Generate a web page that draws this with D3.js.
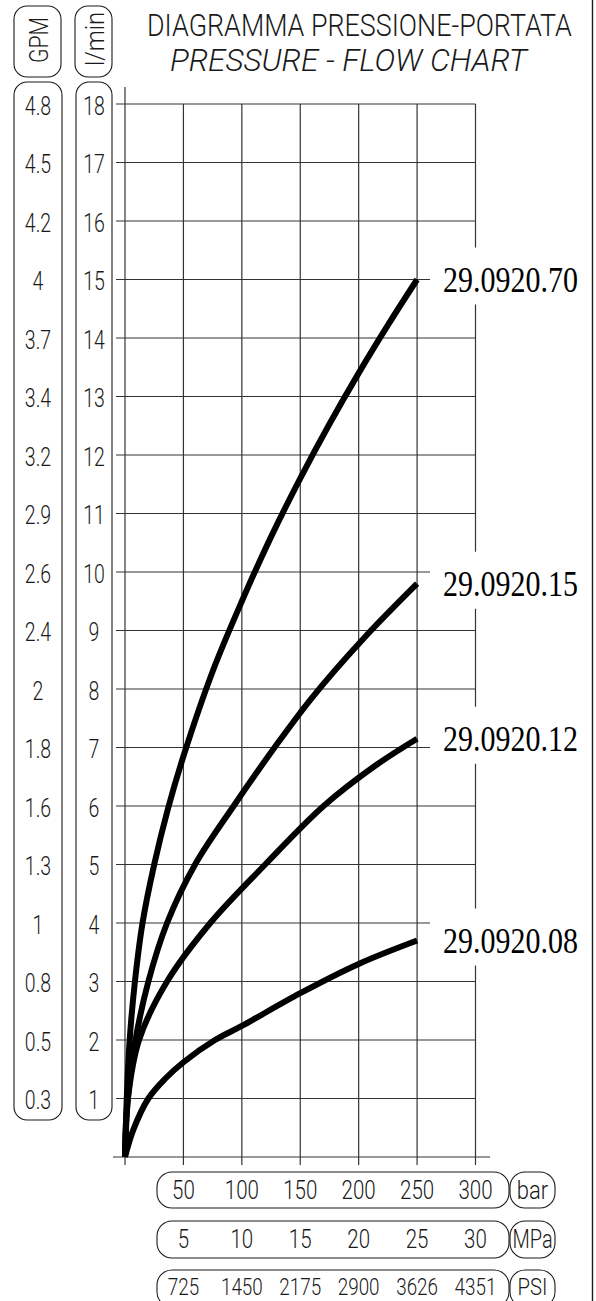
<!DOCTYPE html>
<html><head><meta charset="utf-8">
<script src="https://cdn.jsdelivr.net/npm/d3@7"></script>
<style>body{margin:0;background:#fff}svg{display:block}</style>
</head><body>
<script>
// ---- data ----
const barTicks = [50, 100, 150, 200, 250, 300];
const mpaLabels = ["5", "10", "15", "20", "25", "30"];
const psiLabels = ["725", "1450", "2175", "2900", "3626", "4351"];
const flowTicks = [1,2,3,4,5,6,7,8,9,10,11,12,13,14,15,16,17,18];
const gpmLabels = ["0.3","0.5","0.8","1","1.3","1.6","1.8","2","2.4","2.6","2.9","3.2","3.4","3.7","4","4.2","4.5","4.8"];
const seriesNames = ["29.0920.70", "29.0920.15", "29.0920.12", "29.0920.08"];
// [bar, l/min]
const s70 = [[0,0],[1.5,1],[4,2],[8.5,3],[15,4],[25,5],[37,5.97],[50,6.85],[75,8.3],[100,9.5],[125,10.6],[150,11.6],[175,12.53],[200,13.4],[225,14.22],[250,15]];
const s15 = [[0,0],[2.5,1],[9,2],[20,3],[36,4],[60,5],[93,6],[128,7],[160,7.85],[205,8.88],[250,9.8]];
const s12 = [[0,0],[2.5,1],[12,2],[36,3],[73,4],[120,5],[170,6],[215,6.7],[250,7.15]];
const s08 = [[0,0],[7,0.46],[20,1],[35,1.35],[50,1.62],[77,2],[100,2.24],[150,2.8],[200,3.3],[250,3.7]];
const allSeries = [s70, s15, s12, s08];

const W = 596, H = 1301;
const svg = d3.select("body").append("svg").attr("width", W).attr("height", H);
const x = d3.scaleLinear().domain([0, 300]).range([125, 475.5]);
const y = d3.scaleLinear().domain([0, 18]).range([1157, 104]);

const FONT = "Roboto, 'DejaVu Sans', sans-serif";
const INK = "#1a1a1a";

function ctext(sel, px, py, str, size, sx, opts = {}) {
  const g = sel.append("g").attr("transform", `translate(${px},${py})` + (opts.rot ? ` rotate(${opts.rot})` : "") + ` scale(${sx},1)`);
  g.append("text").text(str)
    .attr("text-anchor", opts.anchor || "middle")
    .attr("dominant-baseline", opts.baseline || "central")
    .attr("font-family", opts.family || FONT)
    .attr("font-weight", opts.weight || 300)
    .attr("font-style", opts.italic ? "italic" : "normal")
    .attr("font-size", size)
    .attr("fill", opts.fill || INK);
  return g;
}
// text fitted to a target width (scaled horizontally)
function fitText(sel, px, py, str, size, width, opts = {}) {
  const g = sel.append("g");
  const t = g.append("text").text(str)
    .attr("x", 0).attr("y", 0)
    .attr("text-anchor", "start")
    .attr("font-family", opts.family || FONT)
    .attr("font-weight", opts.weight || 300)
    .attr("font-style", opts.italic ? "italic" : "normal")
    .attr("font-size", size)
    .attr("fill", opts.fill || INK);
  const len = t.node().getComputedTextLength();
  g.attr("transform", `translate(${px},${py}) scale(${width / len},1)`);
  return g;
}
function box(x0, y0, x1, y1, r) {
  svg.append("rect").attr("x", x0).attr("y", y0).attr("width", x1 - x0).attr("height", y1 - y0)
    .attr("rx", r).attr("ry", r).attr("fill", "none").attr("stroke", INK).attr("stroke-width", 1.1);
}

// ---- title ----
fitText(svg, 147, 36, "DIAGRAMMA PRESSIONE-PORTATA", 31, 425);
fitText(svg, 170, 71, "PRESSURE - FLOW CHART", 31, 357, {italic: true});

// right frame line
svg.append("line").attr("x1", 592.5).attr("x2", 592.5).attr("y1", 0).attr("y2", H).attr("stroke", INK).attr("stroke-width", 1.4);

// ---- left boxes ----
box(14, 6, 61, 77, 13);
box(75, 6, 112, 77, 13);
box(14, 82, 62, 1120, 13);
box(76, 82, 112, 1120, 13);
ctext(svg, 39, 40, "GPM", 25, 0.85, {rot: -90});
ctext(svg, 95, 39, "l/min", 25, 0.95, {rot: -90});
flowTicks.forEach((v, i) => {
  ctext(svg, 94, y(v) + 2, String(v), 25, 0.78);
  ctext(svg, 38, y(v) + 2, gpmLabels[i], 25, 0.78);
});

// ---- grid ----
const grid = svg.append("g").attr("stroke", "#333").attr("stroke-width", 1.2);
flowTicks.forEach(v => {
  grid.append("line").attr("x1", 116).attr("x2", x(300)).attr("y1", y(v)).attr("y2", y(v));
});
barTicks.forEach(v => {
  grid.append("line").attr("x1", x(v)).attr("x2", x(v)).attr("y1", y(18)).attr("y2", y(0) + 8);
});
// axes
grid.append("line").attr("x1", x(0)).attr("x2", x(0)).attr("y1", 87).attr("y2", y(0) + 8);
grid.append("line").attr("x1", 113).attr("x2", 490).attr("y1", y(0)).attr("y2", y(0));

// ---- label masks ----
const endVals = allSeries.map(s => s[s.length - 1]);
endVals.forEach(d => {
  const base = y(d[1]) + 12;
  svg.append("rect").attr("x", 430).attr("y", base - 44).attr("width", 160).attr("height", 57).attr("fill", "#fff");
});

// ---- curves ----
const line = d3.line().x(d => x(d[0])).y(d => y(d[1])).curve(d3.curveCatmullRom.alpha(0.5));
allSeries.forEach(s => {
  svg.append("path").attr("d", line(s)).attr("fill", "none").attr("stroke", "#000").attr("stroke-width", 6);
});

// series labels
endVals.forEach((d, i) => {
  fitText(svg, 443, y(d[1]) + 12, seriesNames[i], 35, 135, {family: "'Liberation Serif', 'Times New Roman', serif", weight: 400, fill: "#000"});
});

// ---- bottom scales ----
const rows = [
  {y0: 1172, y1: 1208, cy: 1191, labels: barTicks.map(String), unit: "bar"},
  {y0: 1221, y1: 1258, cy: 1240, labels: mpaLabels, unit: "MPa"},
  {y0: 1270, y1: 1307, cy: 1287, labels: psiLabels, unit: "PSI"}
];
rows.forEach(r => {
  box(157, r.y0, 509, r.y1, 15);
  box(510, r.y0, 555, r.y1, 15);
  const sz = r.unit === "PSI" ? 23 : 25;
  r.labels.forEach((t, i) => ctext(svg, x(barTicks[i]), r.cy, t, sz, 0.82));
  ctext(svg, 532.5, r.cy, r.unit, sz, r.unit === "MPa" ? 0.8 : 0.88);
});
</script>
</body></html>
